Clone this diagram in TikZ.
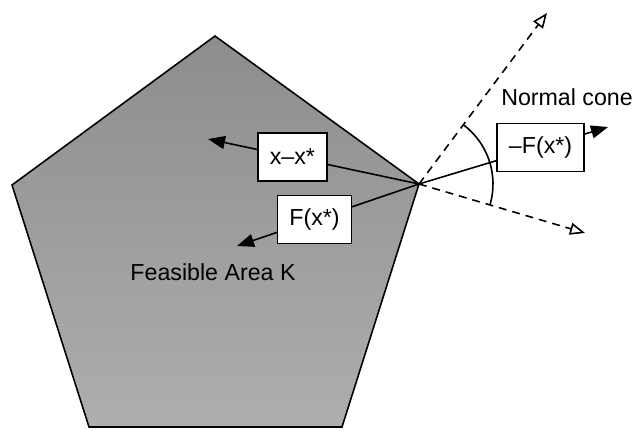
\documentclass[tikz,border=0pt]{standalone}
\usepackage{fontspec}
\setmainfont{Liberation Sans}
\usetikzlibrary{arrows.meta}
\definecolor{areatop}{HTML}{8D8D8D}
\definecolor{areabot}{HTML}{AEAEAE}
\begin{document}
\begin{tikzpicture}[line width=0.9pt, font=\fontsize{13.2}{15}\selectfont,
vec/.style ={-{Triangle[length=0.34cm,width=0.26cm]}},
cone/.style ={dashed, dash pattern=on 4.5pt off 3.4pt,
  -{Triangle[open,length=0.3cm,width=0.24cm]}},
box/.style ={ rectangle ,draw , fill=white , minimum height =0.96cm,
  inner xsep=0.24cm}]
\useasboundingbox (0,0) rectangle (12.7,8.6);
% feasible set
\coordinate (P1) at (4.30,7.88);
\coordinate (V) at (8.38,4.92);
\coordinate (P3) at (6.84,0.06);
\coordinate (P4) at (1.78,0.06);
\coordinate (P5) at (0.24,4.90);
\draw[top color=areatop, bottom color=areabot] (P1) -- (V) -- (P3) -- (P4) -- (P5) -- cycle;
\node (K) at (4.26,3.16) {Feasible Area K};
% normal cone
\coordinate (c1) at (10.94,8.34);
\coordinate (c2) at (11.70,3.94);
\draw[cone] (V) -- (c1);
\draw[cone] (V) -- (c2);
\draw (V) ++(53.2:1.48) arc[start angle=53.2, end angle=-16.4, radius=1.48];
\node (N) at (11.34,6.66) {Normal cone};
% vectors
\coordinate (t1) at (4.16,5.82);
\coordinate (t2) at (4.74,3.68);
\coordinate (t3) at (12.16,6.06);
\draw[vec] (V) -- (t1) node[box, pos=0.6] (b1) {x–x*};
\draw[vec] (V) -- (t2) node[box, pos=0.574] (b2) {F(x*)};
\draw[vec] (V) -- (t3) node[box, pos=0.643] (b3) {–F(x*)};
\end{tikzpicture}
\end{document}
